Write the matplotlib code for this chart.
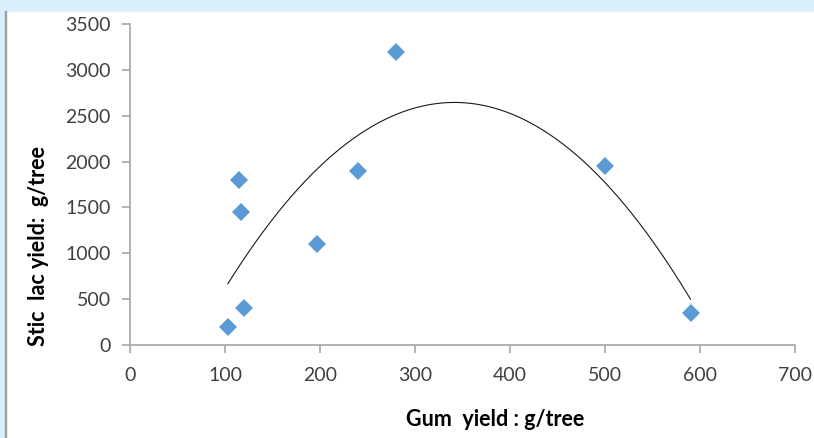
import numpy as np
import matplotlib.pyplot as plt
from matplotlib.patches import Rectangle

# gum yield vs stic lac yield, g/tree
gum_yield = [103, 115, 117, 120, 197, 240, 280, 500, 590]
lac_yield = [200, 1800, 1450, 400, 1100, 1900, 3200, 1950, 350]

x_ticks = [0, 100, 200, 300, 400, 500, 600, 700]
y_ticks = [0, 500, 1000, 1500, 2000, 2500, 3000, 3500]

plt.rcParams['font.family'] = ['Lato', 'DejaVu Sans']

fig = plt.figure(figsize=(8.14, 4.38), dpi=100)
fig.patches.append(Rectangle((0, 1 - 11 / 438), 1, 11 / 438, transform=fig.transFigure,
                             color='#dbeefb', zorder=0))
fig.patches.append(Rectangle((0, 0), 5 / 814, 1, transform=fig.transFigure,
                             color='#dbeefb', zorder=0))
fig.patches.append(Rectangle((5 / 814, 0), 1.2 / 814, 1 - 11 / 438, transform=fig.transFigure,
                             color='#a0a0a0', zorder=1))

ax = fig.add_axes([130 / 814, 93 / 438, 665 / 814, 321 / 438])

# second order polynomial trendline
coef = np.polyfit(gum_yield, lac_yield, 2)
xs = np.linspace(min(gum_yield), max(gum_yield), 200)
ax.plot(xs, np.polyval(coef, xs), color='#1a1a1a', lw=0.8, zorder=2)

ax.plot(gum_yield, lac_yield, 'D', color='#5b9bd5', markersize=9, zorder=3,
        markeredgewidth=0)

ax.set_xlim(0, 700)
ax.set_ylim(0, 3500)
ax.set_xticks(x_ticks)
ax.set_yticks(y_ticks)
for s in ['top', 'right']:
    ax.spines[s].set_visible(False)
for s in ['left', 'bottom']:
    ax.spines[s].set_color('#a6a6a6')
    ax.spines[s].set_linewidth(1.2)
ax.tick_params(colors='#a6a6a6', labelcolor='#404040', labelsize=14, length=6, width=1.2,
               direction='out')
ax.tick_params(axis='x', pad=10)
ax.tick_params(axis='y', pad=8)

fig.text(495 / 814, 1 - 420 / 438, 'Gum  yield : g/tree', ha='center', va='center',
         fontsize=15.5, fontweight='bold')
fig.text(39 / 814, 1 - 246 / 438, 'Stic  lac yield:  g/tree', ha='center', va='center',
         rotation=90, fontsize=15.5, fontweight='bold')

fig.savefig('out.png', dpi=100)
